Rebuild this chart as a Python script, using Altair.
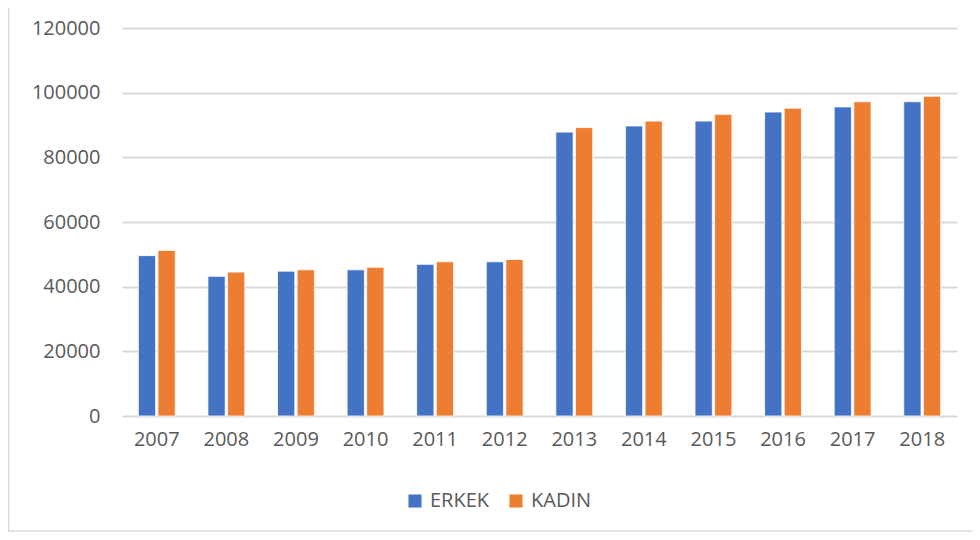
import altair as alt
import pandas as pd

years = ["2007", "2008", "2009", "2010", "2011", "2012",
         "2013", "2014", "2015", "2016", "2017", "2018"]
erkek = [49600, 43200, 44800, 45200, 46900, 47700,
         87800, 89700, 91200, 94000, 95600, 97200]
kadin = [51200, 44500, 45200, 46000, 47700, 48400,
         89200, 91200, 93300, 95200, 97200, 98900]
series = ["ERKEK", "KADIN"]
colors = ["#4472C4", "#ED7D31"]

rows = []
for i, y in enumerate(years):
    rows.append({"year": y, "cinsiyet": series[0], "value": erkek[i]})
    rows.append({"year": y, "cinsiyet": series[1], "value": kadin[i]})
df = pd.DataFrame(rows)

FONT = "Open Sans"
TXT = "#595959"
FS = 20

bars = alt.Chart(df).mark_bar(stroke="white", strokeWidth=0.8).encode(
    x=alt.X("year:N", title=None, sort=years,
            scale=alt.Scale(paddingInner=0.47, paddingOuter=0.235),
            axis=alt.Axis(labelAngle=0, domain=False, ticks=False,
                          labelPadding=13, labelFontSize=FS,
                          labelFont=FONT, labelColor=TXT, grid=False)),
    xOffset=alt.XOffset("cinsiyet:N", sort=series,
                        scale=alt.Scale(paddingInner=0.12)),
    y=alt.Y("value:Q", title=None,
            scale=alt.Scale(domain=[0, 120000]),
            axis=alt.Axis(values=[0, 20000, 40000, 60000, 80000, 100000, 120000],
                          format="d", domain=False, ticks=False,
                          labelPadding=22, labelFontSize=FS,
                          labelFont=FONT, labelColor=TXT,
                          gridColor="#d9d9d9", gridWidth=2)),
    color=alt.Color("cinsiyet:N", sort=series,
                    scale=alt.Scale(domain=series, range=colors),
                    legend=alt.Legend(title=None, orient="none",
                                      direction="horizontal",
                                      legendX=283, legendY=463,
                                      symbolType="square", symbolSize=170,
                                      symbolStrokeWidth=0,
                                      labelFontSize=FS, labelFont=FONT,
                                      labelColor=TXT, columnPadding=16,
                                      labelOffset=5)),
)

frame = pd.DataFrame({"k": [0]})
left_border = alt.Chart(frame).mark_rule(color="#d9d9d9", strokeWidth=1.5).encode(
    x=alt.value(-113.5), y=alt.value(-20), y2=alt.value(504))
bottom_border = alt.Chart(frame).mark_rule(color="#d9d9d9", strokeWidth=1.5).encode(
    x=alt.value(-114), x2=alt.value(850), y=alt.value(503))

chart = alt.layer(bars, left_border, bottom_border).properties(
    width=835, height=388,
    autosize=alt.AutoSizeParams(type="none"),
    padding={"left": 114, "top": 20, "right": 15, "bottom": 116},
).configure(background="white").configure_view(stroke=None)

chart.save("out.html", embed_options={"renderer": "svg", "actions": False})
